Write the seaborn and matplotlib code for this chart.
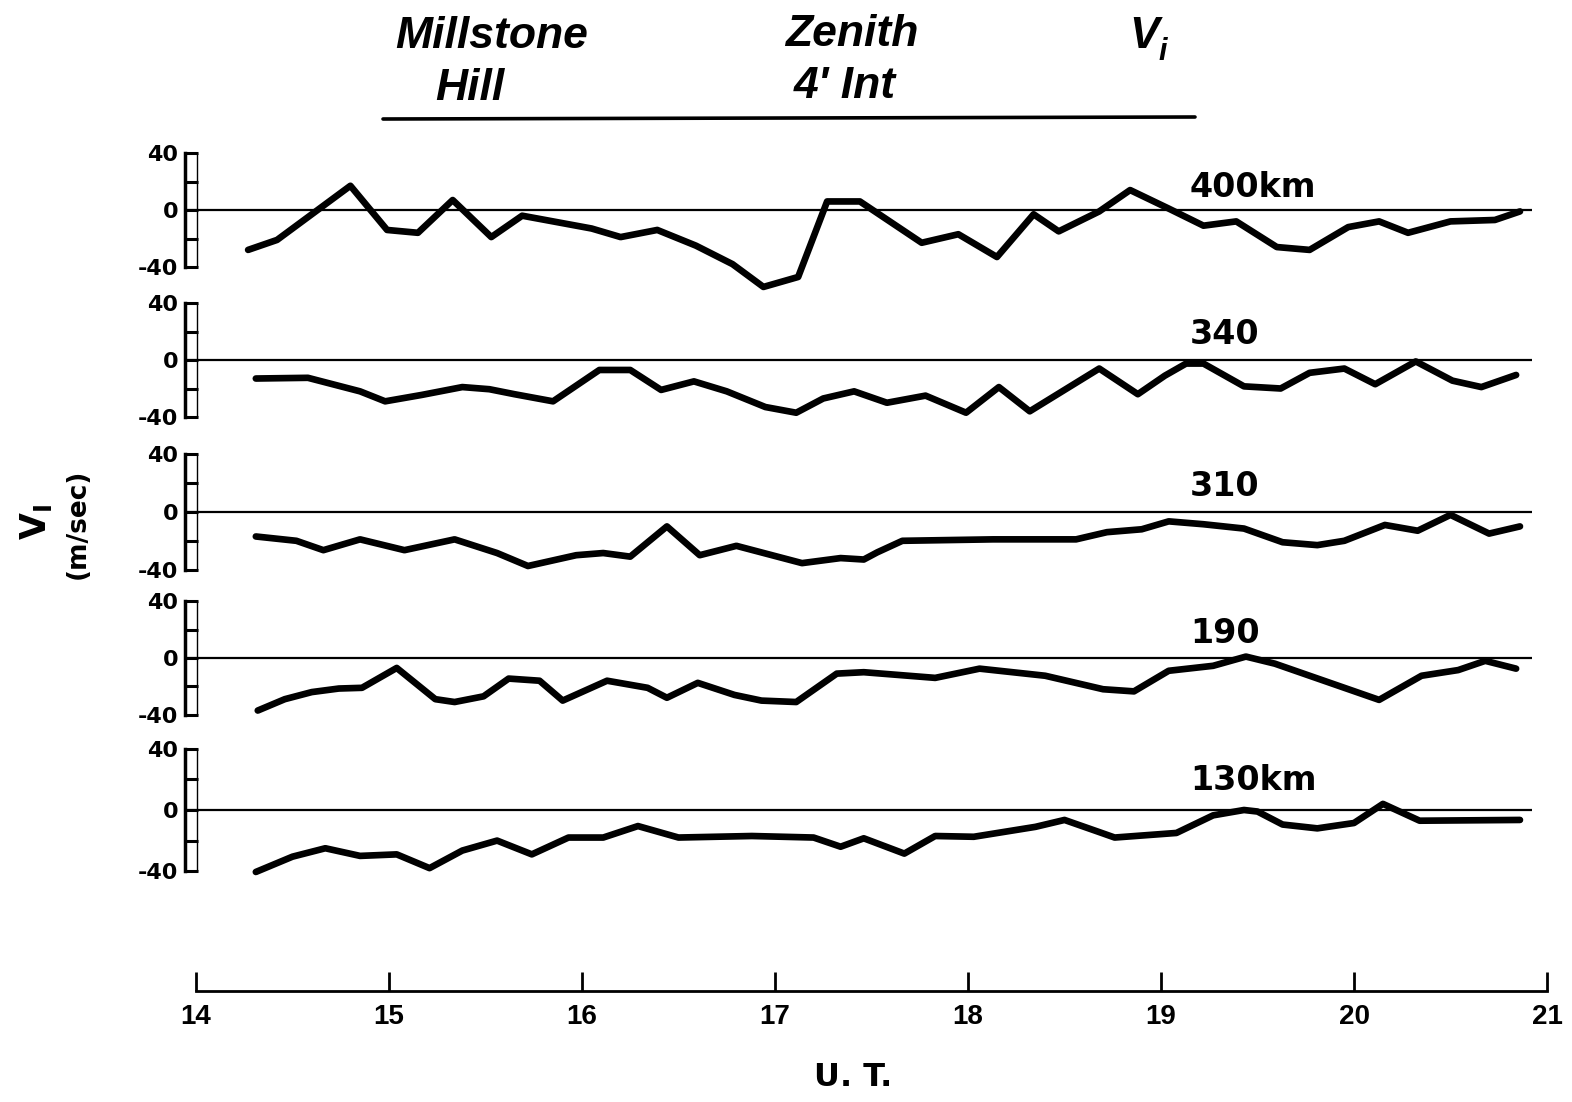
import matplotlib
matplotlib.use("Agg")
import matplotlib.pyplot as plt
import matplotlib.transforms as mtransforms
from matplotlib import font_manager
from matplotlib.lines import Line2D
import seaborn as sns

# ---------------------------------------------------------------------------
# Ion drift velocity V_i (m/sec), one trace per height
# ---------------------------------------------------------------------------
UT_400 = [14.27, 14.42, 14.80, 14.99, 15.15, 15.33, 15.53, 15.69, 15.93, 16.05,
          16.20, 16.39, 16.59, 16.78, 16.94, 17.12, 17.27, 17.44, 17.76, 17.95,
          18.15, 18.34, 18.47, 18.68, 18.84, 19.04, 19.22, 19.39, 19.60, 19.77,
          19.97, 20.13, 20.28, 20.50, 20.73, 20.86]
VI_400 = [-28, -21, 17, -14, -16, 7, -19, -4, -10, -13,
          -19, -14, -25, -38, -54, -47, 6, 6, -23, -17,
          -33, -3, -15, -1, 14, 1, -11, -8, -26, -28,
          -12, -8, -16, -8, -7, -1]

UT_340 = [14.31, 14.58, 14.85, 14.98, 15.17, 15.38, 15.52, 15.65, 15.85, 16.09,
          16.25, 16.41, 16.58, 16.75, 16.95, 17.11, 17.25, 17.41, 17.58, 17.78,
          17.99, 18.16, 18.32, 18.68, 18.88, 19.02, 19.13, 19.22, 19.43, 19.62,
          19.77, 19.95, 20.11, 20.32, 20.51, 20.66, 20.84]
VI_340 = [-13, -12.5, -22, -29, -24.5, -19, -20.5, -24, -29, -7,
          -7, -21, -15, -22, -33, -37, -27, -22, -30, -25,
          -37, -19, -36, -6, -24, -11, -2.5, -2.5, -18.5, -20,
          -9, -6, -17, -1, -14.5, -19, -10.5]

UT_310 = [14.31, 14.52, 14.66, 14.85, 15.08, 15.34, 15.56, 15.72, 15.97, 16.11,
          16.25, 16.44, 16.61, 16.80, 17.14, 17.34, 17.46, 17.53, 17.66, 18.13,
          18.56, 18.72, 18.90, 19.04, 19.22, 19.43, 19.63, 19.81, 19.95, 20.16,
          20.33, 20.50, 20.70, 20.86]
VI_310 = [-17, -20, -26.5, -19, -26.5, -19, -28.5, -37.5, -30, -28.5,
          -31, -10, -30, -23.5, -35.5, -32, -33, -28, -20, -19,
          -19, -14, -12, -6.5, -8.5, -11.5, -21, -23, -20, -9,
          -13, -2, -15, -10]

UT_190 = [14.32, 14.46, 14.60, 14.74, 14.86, 15.04, 15.24, 15.34, 15.49, 15.62,
          15.78, 15.90, 16.13, 16.34, 16.44, 16.60, 16.79, 16.93, 17.11, 17.32,
          17.46, 17.83, 18.06, 18.40, 18.70, 18.86, 19.04, 19.27, 19.44, 19.59,
          20.13, 20.35, 20.54, 20.68, 20.84]
VI_190 = [-37, -29, -24, -21.5, -21, -7, -29, -31, -27, -14.5,
          -16, -30, -16, -21, -28, -17.5, -26, -30, -31, -11,
          -10, -14, -7.5, -12.5, -22, -23.5, -9, -5.5, 1, -4,
          -29.5, -12.5, -8.5, -2, -7.5]

UT_130 = [14.31, 14.50, 14.67, 14.85, 15.04, 15.21, 15.38, 15.56, 15.74, 15.93,
          16.11, 16.29, 16.50, 16.88, 17.20, 17.34, 17.46, 17.67, 17.83, 18.03,
          18.35, 18.50, 18.67, 18.76, 19.08, 19.27, 19.43, 19.50, 19.63, 19.81,
          20.00, 20.15, 20.34, 20.86]
VI_130 = [-40.5, -30.5, -25, -30, -29, -38, -26.5, -20, -29, -18,
          -18, -10.5, -18, -17, -18, -24, -18.5, -28.5, -17, -17.5,
          -11, -6.5, -14, -18, -15, -3.5, 0, -1, -9.5, -12,
          -8.5, 4, -7, -6.5]

HEIGHT_LABELS = ["400km", "340", "310", "190", "130km"]
UT_TICKS = [14, 15, 16, 17, 18, 19, 20, 21]
VI_TICKS = [-40, -20, 0, 20, 40]
VI_TICK_LABELS = ["-40", "", "0", "", "40"]

# ---------------------------------------------------------------------------
sns.set_theme(style="white")
plt.rcParams["font.family"] = ["DejaVu Sans"]
for key in ["text.color", "axes.labelcolor", "xtick.color", "ytick.color", "axes.edgecolor"]:
    plt.rcParams[key] = "black"

installed = {f.name for f in font_manager.fontManager.ttflist}
NARROW = "Liberation Sans Narrow" if "Liberation Sans Narrow" in installed else "Liberation Sans"

W, H = 1572, 1102
fig = plt.figure(figsize=(W / 100, H / 100), dpi=100)
fig.patch.set_facecolor("white")

# pixel layout of the scan
X0_PX, X1_PX = 185, 1547
PX_PER_HOUR = 193
XLIM = (14 + (X0_PX - 196) / PX_PER_HOUR, 21.0)
ZERO_END = 20.92
ZERO_PX = [210, 360, 512, 658, 810]
PX_PER_UNIT = [1.425, 1.425, 1.44, 1.42, 1.53]
LABEL_Y = [15.5, 18, 18, 17.5, 19]
YLO, YHI = -60, 50


def add_px_axes(left, top, right, bottom):
    return fig.add_axes([left / W, 1 - bottom / H, (right - left) / W, (bottom - top) / H])


series = [(UT_400, VI_400), (UT_340, VI_340), (UT_310, VI_310),
          (UT_190, VI_190), (UT_130, VI_130)]

for (ut, vi), label, z, s, ly in zip(series, HEIGHT_LABELS, ZERO_PX, PX_PER_UNIT, LABEL_Y):
    ax = add_px_axes(X0_PX, z - YHI * s, X1_PX, z - YLO * s)
    ax.patch.set_alpha(0)
    sns.lineplot(x=ut, y=vi, ax=ax, color="black", linewidth=4.8,
                 sort=False, estimator=None)
    for ln in ax.lines:
        ln.set_clip_on(False)
        ln.set_solid_joinstyle("round")
        ln.set_solid_capstyle("round")
    ax.hlines(0, XLIM[0], ZERO_END, color="black", linewidth=1.6)
    ax.set_xlim(XLIM)
    ax.set_ylim(YLO, YHI)
    for side in ["top", "right", "bottom"]:
        ax.spines[side].set_visible(False)
    ax.spines["left"].set_bounds(-40, 40)
    ax.spines["left"].set_linewidth(2.5)
    ax.set_xticks([])
    ax.set_yticks(VI_TICKS)
    ax.set_yticklabels(VI_TICK_LABELS, fontweight="bold")
    ax.tick_params(axis="y", direction="in", length=9, width=2.2, pad=5,
                   labelsize=16, left=True)
    ax.set_xlabel("")
    ax.set_ylabel("")
    # second rail of the little ruler
    trans = mtransforms.blended_transform_factory(ax.transAxes, ax.transData)
    rail_x = 12 / (X1_PX - X0_PX)
    ax.plot([rail_x, rail_x], [-40, 40], transform=trans, color="black", linewidth=1.0)
    ax.text(19.15, ly, label, fontsize=24, fontweight="bold", ha="left", va="center")

# bottom time axis
axb = add_px_axes(X0_PX, 960, X1_PX, 991)
axb.patch.set_alpha(0)
axb.set_xlim(XLIM)
axb.set_yticks([])
for side in ["top", "right", "left"]:
    axb.spines[side].set_visible(False)
axb.spines["bottom"].set_bounds(14, 21)
axb.spines["bottom"].set_linewidth(2.0)
axb.set_xticks(UT_TICKS)
axb.set_xticklabels([str(t) for t in UT_TICKS], fontweight="bold", family=NARROW)
axb.tick_params(axis="x", direction="in", length=14, width=2, pad=9,
                labelsize=20, bottom=True)

fig.text(853 / W, 1 - 1078 / H, "U. T.", fontsize=23, fontweight="bold",
         ha="center", va="center")

# y label
fig.text(36 / W, 1 - 522 / H, r"$\mathbf{V_I}$", fontsize=25, rotation=90,
         ha="center", va="center")
fig.text(78 / W, 1 - 524 / H, "(m/sec)", fontsize=19, fontweight="bold",
         rotation=90, ha="center", va="center")

# header
head = dict(family="Liberation Sans", fontweight="bold", style="italic",
            fontsize=32, ha="center", va="center")
fig.text(492 / W, 1 - 36 / H, "Millstone", **head)
fig.text(470 / W, 1 - 88 / H, "Hill", **head)
fig.text(852 / W, 1 - 34 / H, "Zenith", **head)
fig.text(845 / W, 1 - 86 / H, "4' Int", **head)
fig.text(1144 / W, 1 - 36 / H, "V", **head)
fig.text(1163 / W, 1 - 52 / H, "i", **dict(head, fontsize=22))
fig.add_artist(Line2D([383 / W, 1195 / W], [1 - 119 / H, 1 - 117 / H],
                      transform=fig.transFigure, color="black", linewidth=2.6))

fig.savefig("out.png", dpi=100, facecolor="white")
